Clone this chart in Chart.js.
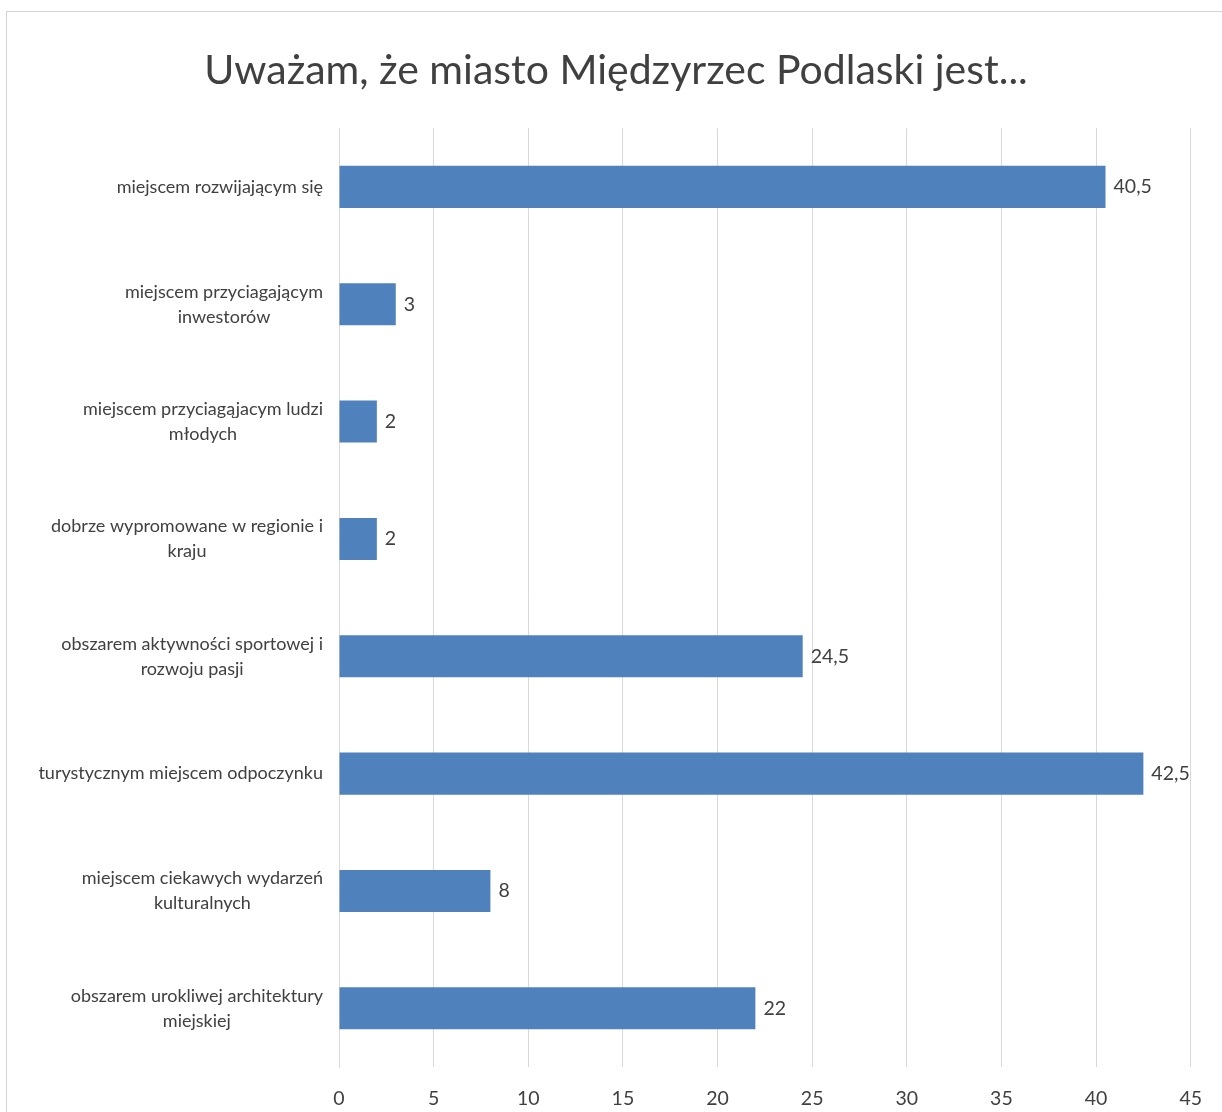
<!DOCTYPE html>
<html><head><meta charset="utf-8">
<script src="https://cdn.jsdelivr.net/npm/chart.js@4/dist/chart.umd.min.js"></script>
<style>
html,body{margin:0;padding:0;overflow:hidden;background:#fff;width:1222px;height:1112px;}
#frame{position:absolute;left:6px;top:11px;width:1300px;height:1200px;border:1px solid #d4d4d4;}
#wrap{position:absolute;left:0;top:0;width:1222px;height:1112px;}
</style></head><body>
<div id="frame"></div>
<div id="wrap"><canvas id="c" width="1222" height="1112"></canvas></div>
<script>
const titleText = 'Uważam, że miasto Międzyrzec Podlaski jest...';
const categories = [
  ['miejscem rozwijającym się'],
  ['miejscem przyciagającym', 'inwestorów'],
  ['miejscem przyciagąjacym ludzi', 'młodych'],
  ['dobrze wypromowane w regionie i', 'kraju'],
  ['obszarem aktywności sportowej i', 'rozwoju pasji'],
  ['turystycznym miejscem odpoczynku'],
  ['miejscem ciekawych wydarzeń', 'kulturalnych'],
  ['obszarem urokliwej architektury', 'miejskiej']
];
const values = [40.5, 3, 2, 2, 24.5, 42.5, 8, 22];
const xMin = 0, xMax = 45, xStep = 5;

const TEXT = '#404040';
const FONT = 'Lato, "Open Sans", sans-serif';

const valueLabels = {
  id: 'valueLabels',
  afterDatasetsDraw(chart) {
    const ctx = chart.ctx;
    const meta = chart.getDatasetMeta(0);
    ctx.save();
    ctx.font = '19.5px ' + FONT;
    ctx.fillStyle = TEXT;
    ctx.textAlign = 'left';
    ctx.textBaseline = 'middle';
    meta.data.forEach((el, i) => {
      ctx.fillText(String(values[i]).replace('.', ','), el.x + 8, el.y);
    });
    ctx.restore();
  }
};

const categoryLabels = {
  id: 'categoryLabels',
  afterDraw(chart) {
    const ctx = chart.ctx;
    const ys = chart.scales.y;
    const right = ys.right - 16;
    ctx.save();
    ctx.font = '18px ' + FONT;
    ctx.fillStyle = TEXT;
    ctx.textAlign = 'center';
    ctx.textBaseline = 'middle';
    categories.forEach((lines, i) => {
      const y = ys.getPixelForTick(i);
      const w = Math.max(...lines.map(l => ctx.measureText(l).width));
      const cx = right - w / 2;
      lines.forEach((l, j) => {
        ctx.fillText(l, cx, y + (j - (lines.length - 1) / 2) * 25);
      });
    });
    ctx.restore();
  }
};

new Chart(document.getElementById('c'), {
  type: 'bar',
  data: {
    labels: categories,
    datasets: [{
      data: values,
      backgroundColor: '#4f81bd',
      borderWidth: 0,
      categoryPercentage: 1,
      barPercentage: 0.358
    }]
  },
  options: {
    indexAxis: 'y',
    responsive: false,
    animation: false,
    layout: { padding: { left: 41, right: 31, top: 0, bottom: 0 } },
    plugins: {
      legend: { display: false },
      tooltip: { enabled: false },
      title: {
        display: true,
        text: titleText,
        color: TEXT,
        font: { family: FONT, size: 41, weight: 'normal' },
        padding: { top: 46, bottom: 33 }
      }
    },
    scales: {
      x: {
        type: 'linear',
        min: xMin, max: xMax,
        ticks: { stepSize: xStep, color: TEXT, font: { family: FONT, size: 19.5 }, padding: 20 },
        grid: { color: '#d9d9d9', drawTicks: false },
        border: { display: false },
        afterFit(s) { s.height = 45; }
      },
      y: {
        ticks: { display: false },
        grid: { display: false },
        border: { display: true, color: '#d9d9d9' },
        afterFit(s) { s.width = 298; }
      }
    }
  },
  plugins: [valueLabels, categoryLabels]
});
</script>
</body></html>
